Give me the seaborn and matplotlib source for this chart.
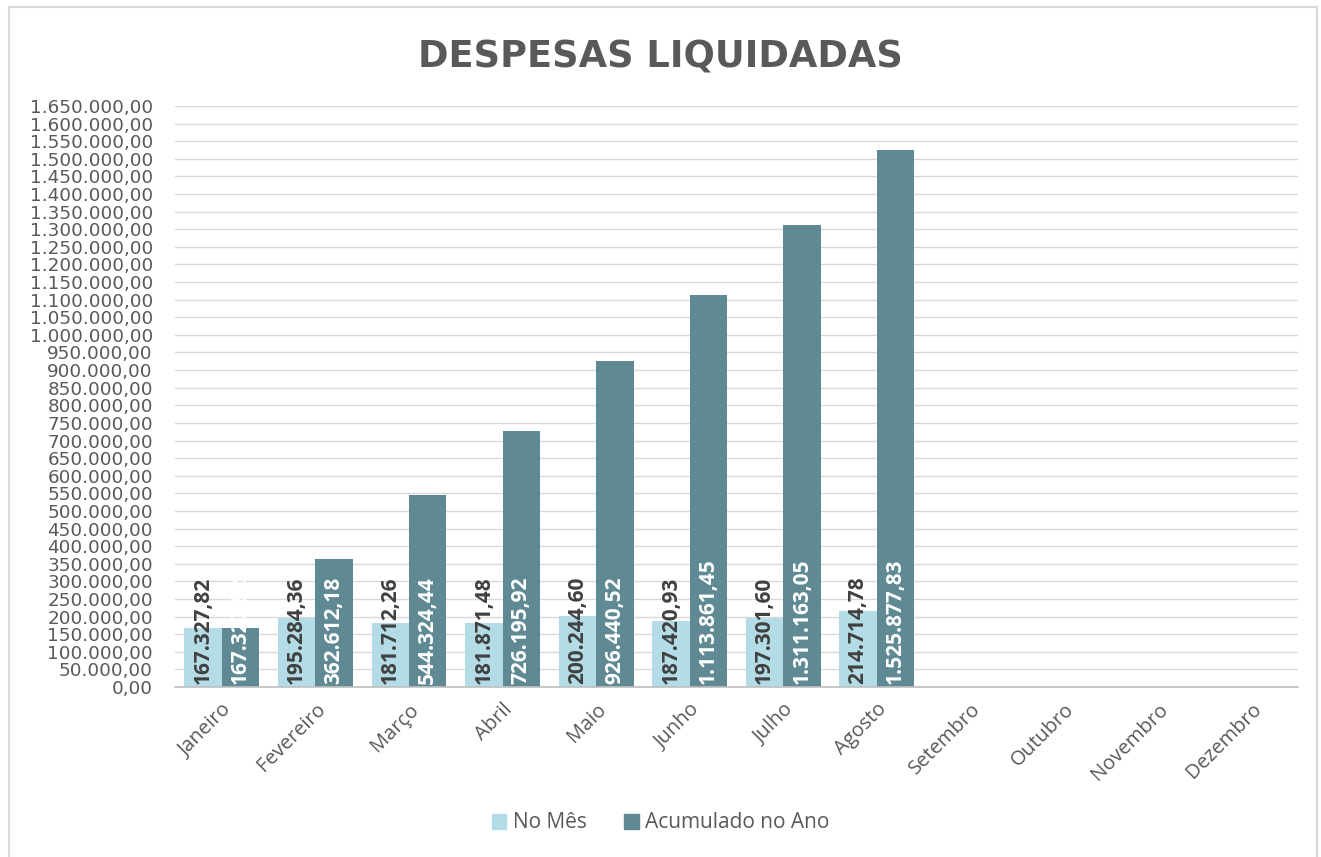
import matplotlib
matplotlib.use("Agg")
import matplotlib.pyplot as plt
import seaborn as sns
import pandas as pd
import numpy as np
from matplotlib.lines import Line2D
from matplotlib.patches import Rectangle

months = ["Janeiro", "Fevereiro", "Março", "Abril", "Maio", "Junho", "Julho",
          "Agosto", "Setembro", "Outubro", "Novembro", "Dezembro"]
no_mes = [167327.82, 195284.36, 181712.26, 181871.48, 200244.60, 187420.93,
          197301.60, 214714.78]
acumulado = [167327.82, 362612.18, 544324.44, 726195.92, 926440.52,
             1113861.45, 1311163.05, 1525877.83]
series_names = ["No Mês", "Acumulado no Ano"]
colors = ["#B3DCE6", "#5F8993"]
label_colors = ["#404040", "#FFFFFF"]

def fmt(v):
    s = f"{v:,.2f}"
    return s.replace(",", "X").replace(".", ",").replace("X", ".")

rows = []
for m, v in zip(months, no_mes):
    rows.append({"Mês": m, "Série": series_names[0], "Valor": v})
for m, v in zip(months, acumulado):
    rows.append({"Mês": m, "Série": series_names[1], "Valor": v})
df = pd.DataFrame(rows)

sns.set_theme(style="white")
plt.rcParams["font.family"] = ["Open Sans", "DejaVu Sans"]
OPEN = ["Open Sans", "DejaVu Sans"]
DEJA = ["DejaVu Sans"]

W, H = 1321, 857
fig = plt.figure(figsize=(W / 100, H / 100), dpi=100)
ax = fig.add_axes([175 / W, 1 - 687 / H, (1298 - 175) / W, (687 - 106) / H])

sns.barplot(data=df, x="Mês", y="Valor", hue="Série", order=months,
            hue_order=series_names, palette=colors, width=0.8,
            errorbar=None, saturation=1, ax=ax, legend=True, linewidth=0)

ax.set_ylim(0, 1650000)
ax.set_xlim(-0.5, 11.5)
ticks = np.arange(0, 1650001, 50000)
ax.set_yticks(ticks)
ax.set_yticklabels([fmt(t) for t in ticks], fontsize=13.2, color="#595959",
                   family=DEJA)
ax.yaxis.grid(True, color="#D9D9D9", linewidth=1)
ax.set_axisbelow(True)
ax.tick_params(axis="y", length=0, pad=16)
ax.tick_params(axis="x", length=0, pad=9)
ax.set_xticks(range(len(months)))
ax.set_xticklabels(months, rotation=45, ha="right", rotation_mode="anchor",
                   fontsize=14.5, color="#595959", family=OPEN)
for sp in ["left", "right", "top"]:
    ax.spines[sp].set_visible(False)
ax.spines["bottom"].set_color("#BFBFBF")
ax.spines["bottom"].set_linewidth(1.2)
ax.set_xlabel("")
ax.set_ylabel("")

for ci, cont in enumerate(ax.containers):
    vals = [no_mes, acumulado][ci]
    for bar, v in zip(cont.patches, vals):
        cx = bar.get_x() + bar.get_width() / 2
        ax.annotate(fmt(v), xy=(cx, 0), xytext=(0, 2), textcoords="offset points",
                    rotation=90, ha="center", va="bottom", fontsize=15,
                    fontweight="bold", color=label_colors[ci], clip_on=False,
                    family=OPEN)

leg = ax.get_legend()
if leg is not None:
    leg.remove()
handles = [Rectangle((0, 0), 1, 1, color=c) for c in colors]
fig.legend(handles, series_names, loc="center", bbox_to_anchor=(0.5, 1 - 823 / H),
           ncol=2, frameon=False, handlelength=0.7,
           handleheight=0.7, handletextpad=0.3, columnspacing=1.8,
           labelcolor="#595959", prop={"family": OPEN, "size": 15})

fig.text(0.5, 1 - 57 / H, "DESPESAS LIQUIDADAS", ha="center", va="center",
         fontsize=26.5, fontweight="bold", color="#595959", family=DEJA)

# chart border (left, top, right visible)
bx0, bx1, by0 = 8.5 / W, 1316.5 / W, 1 - 6.5 / H
for xs, ys in [([bx0, bx0], [0, by0]), ([bx0, bx1], [by0, by0]), ([bx1, bx1], [0, by0])]:
    fig.add_artist(Line2D(xs, ys, transform=fig.transFigure, color="#D9D9D9",
                          linewidth=1.5))

fig.savefig("out.png", dpi=100, facecolor="white")
